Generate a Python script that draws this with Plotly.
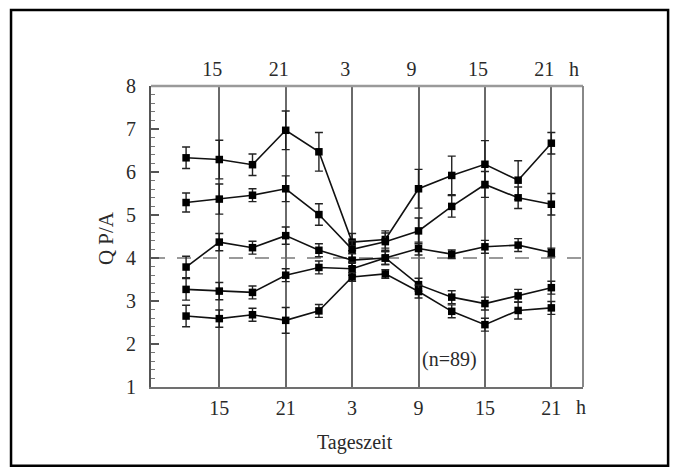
import plotly.graph_objects as go

# time of day (continuous hours; 27 = 3 h next day, etc.)
hours = [12, 15, 18, 21, 24, 27, 30, 33, 36, 39, 42, 45]
tick_vals = [15, 21, 27, 33, 39, 45]
tick_text = ["15", "21", "3", "9", "15", "21"]
unit_label = "h"

series_a = [6.33, 6.29, 6.17, 6.97, 6.47, 4.37, 4.43, 5.61, 5.92, 6.18, 5.81, 6.67]
err_a = [0.25, 0.45, 0.25, 0.45, 0.45, 0.2, 0.2, 0.45, 0.45, 0.55, 0.45, 0.25]
series_b = [5.29, 5.37, 5.46, 5.61, 5.01, 4.20, 4.38, 4.63, 5.20, 5.71, 5.40, 5.25]
err_b = [0.22, 0.35, 0.15, 0.3, 0.25, 0.2, 0.2, 0.3, 0.25, 0.3, 0.25, 0.25]
series_c = [3.79, 4.37, 4.24, 4.52, 4.18, 3.95, 4.00, 4.22, 4.09, 4.26, 4.30, 4.13]
err_c = [0.25, 0.2, 0.15, 0.2, 0.15, 0.15, 0.15, 0.15, 0.1, 0.15, 0.15, 0.1]
series_d = [3.27, 3.23, 3.20, 3.60, 3.78, 3.75, 4.00, 3.38, 3.09, 2.94, 3.12, 3.31]
err_d = [0.25, 0.2, 0.15, 0.15, 0.15, 0.15, 0.15, 0.15, 0.15, 0.15, 0.15, 0.15]
series_e = [2.65, 2.59, 2.68, 2.55, 2.77, 3.56, 3.63, 3.22, 2.76, 2.45, 2.78, 2.84]
err_e = [0.25, 0.2, 0.15, 0.3, 0.15, 0.1, 0.1, 0.15, 0.15, 0.15, 0.2, 0.15]

all_series = [(series_a, err_a), (series_b, err_b), (series_c, err_c),
              (series_d, err_d), (series_e, err_e)]

y_title = "Q P/A"
x_title = "Tageszeit"
note = "(n=89)"
ref_level = 4

FONT = "Liberation Serif, Times New Roman, serif"
TXT = "#2a2a2a"
X_RANGE = [8.83, 47.86]

fig = go.Figure()
for vals, errs in all_series:
    fig.add_trace(go.Scatter(
        x=hours, y=vals, mode="lines+markers",
        line=dict(color="#111111", width=1.6),
        marker=dict(symbol="square", size=7.5, color="#000000"),
        error_y=dict(type="data", array=errs, visible=True,
                     color="#222222", thickness=1.4, width=4),
        showlegend=False, hoverinfo="skip"))

# invisible trace to anchor the top axis
fig.add_trace(go.Scatter(x=[hours[0]], y=[ref_level], xaxis="x2",
                         mode="markers", marker=dict(opacity=0),
                         showlegend=False, hoverinfo="skip"))

fig.add_shape(type="line", xref="paper", yref="y", x0=0, x1=1,
              y0=ref_level, y1=ref_level,
              line=dict(color="#7a7a7a", width=1.6, dash="14px,12px"), layer="below")

# outer frame
fig.add_shape(type="rect", xref="paper", yref="paper",
              x0=-0.324, x1=1.197, y0=-0.262, y1=1.2525,
              line=dict(color="#000000", width=2.5))

fig.add_annotation(x=hours[-1], y=0, xref="x", yref="paper", yanchor="middle",
                   text=unit_label, showarrow=False, xshift=30, yshift=-20,
                   font=dict(family=FONT, size=20, color=TXT))
fig.add_annotation(x=hours[-1], y=1, xref="x", yref="paper", yanchor="middle",
                   text=unit_label, showarrow=False, xshift=23, yshift=17,
                   font=dict(family=FONT, size=20, color=TXT))
fig.add_annotation(x=35.78, y=1.64, xref="x", yref="y",
                   xanchor="center", yanchor="middle",
                   text=note, showarrow=False,
                   font=dict(family=FONT, size=20, color=TXT))
fig.add_annotation(x=0.472, y=-0.186, xref="paper", yref="paper",
                   xanchor="center", yanchor="middle",
                   text=x_title, showarrow=False,
                   font=dict(family=FONT, size=20, color=TXT))
fig.add_annotation(x=-0.104, y=0.495, xref="paper", yref="paper",
                   xanchor="center", yanchor="middle",
                   text=y_title, showarrow=False, textangle=-90,
                   font=dict(family=FONT, size=21, color=TXT))

fig.update_layout(
    width=672, height=468,
    margin=dict(l=143, r=97, t=78, b=89),
    paper_bgcolor="white", plot_bgcolor="white",
    font=dict(family=FONT, size=20, color=TXT),
    xaxis=dict(range=X_RANGE, tickvals=tick_vals, ticktext=tick_text,
               showgrid=True, gridcolor="#6a6a6a", gridwidth=2,
               zeroline=False, showline=True, linecolor="#707070", linewidth=2,
               mirror=False, ticks="", tickfont=dict(size=20),
               ticklabelstandoff=2),
    xaxis2=dict(range=[X_RANGE[0] + 0.63, X_RANGE[1] + 0.63], overlaying="x",
                side="top", tickvals=tick_vals, ticktext=tick_text,
                showgrid=False, zeroline=False, showline=False, ticks="",
                tickfont=dict(size=20), ticklabelstandoff=5),
    yaxis=dict(range=[1, 8], dtick=1, showgrid=False, zeroline=False,
               showline=True, linecolor="#555", linewidth=2, mirror=False,
               ticks="inside", ticklen=8, tickcolor="#555", tickwidth=1.5,
               minor=dict(dtick=0.2, ticks="inside", ticklen=4,
                          tickcolor="#777", tickwidth=1),
               tickfont=dict(size=20), ticklabelstandoff=9),
)

# top and right plot borders
fig.add_shape(type="line", xref="paper", yref="paper", x0=0, x1=1, y0=1, y1=1,
              line=dict(color="#9a9a9a", width=2.5))
fig.add_shape(type="line", xref="paper", yref="paper", x0=1, x1=1, y0=0, y1=1,
              line=dict(color="#888", width=2))

fig.write_html("out.html")
